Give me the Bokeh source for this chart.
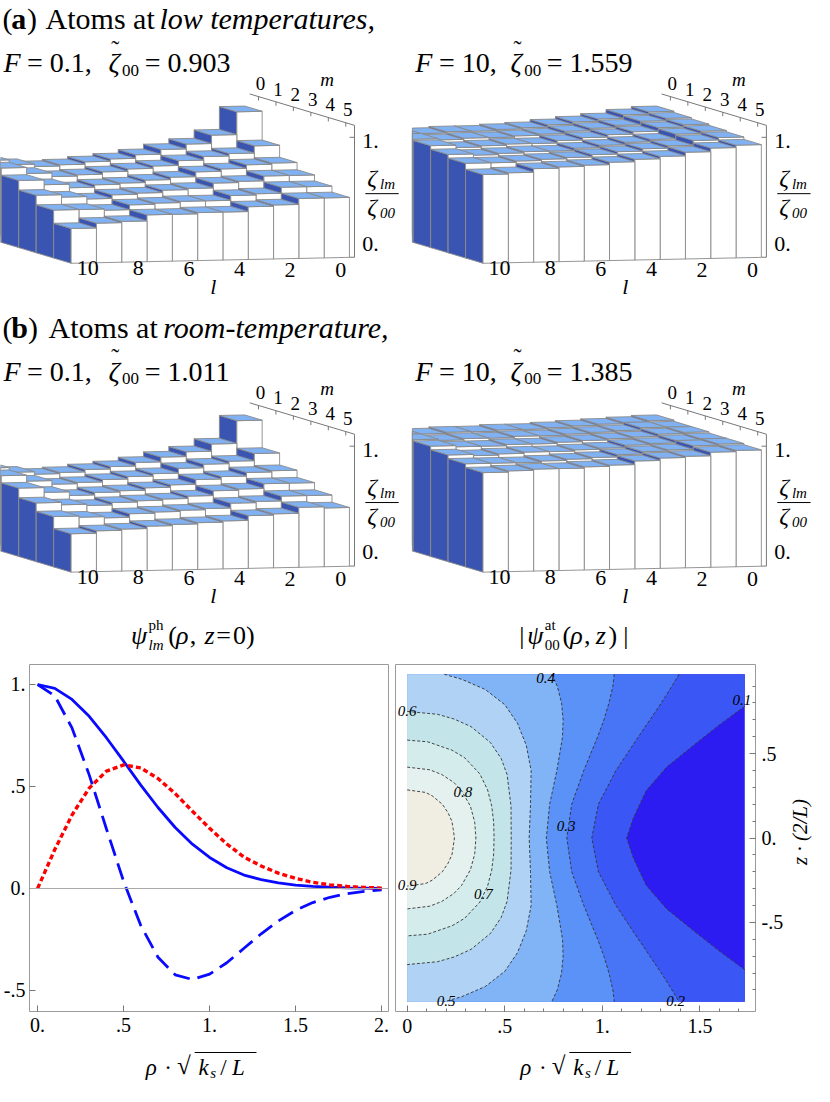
import math
from bokeh.plotting import figure
from bokeh.layouts import column, row
from bokeh.models import Range1d, FixedTicker, ColumnDataSource, Span
from bokeh.core.properties import value
from bokeh.embed import file_html
from bokeh.resources import INLINE

SERIF = "Liberation Serif"

# ---------------------------------------------------------------- data
l_values = [0, 1, 2, 3, 4, 5, 6, 7, 8, 9, 10]
m_values = [0, 1, 2, 3, 4, 5]
l_tick_values = [10, 8, 6, 4, 2, 0]

# zeta_lm / zeta_00, rows m = 0..5, columns l = 0..10
zeta_a_F01 = [
    [1.00, 0.81, 0.74, 0.70, 0.66, 0.63, 0.61, 0.59, 0.58, 0.60, 0.64],
    [0.76, 0.70, 0.68, 0.65, 0.61, 0.59, 0.57, 0.55, 0.54, 0.57, 0.62],
    [0.66, 0.65, 0.62, 0.60, 0.56, 0.54, 0.52, 0.51, 0.49, 0.52, 0.56],
    [0.60, 0.60, 0.56, 0.55, 0.51, 0.50, 0.48, 0.47, 0.44, 0.46, 0.48],
    [0.55, 0.55, 0.50, 0.49, 0.45, 0.45, 0.44, 0.43, 0.39, 0.40, 0.40],
    [0.50, 0.50, 0.45, 0.44, 0.40, 0.40, 0.39, 0.39, 0.34, 0.33, 0.29],
]
zeta_a_F10 = [
    [1.00, 0.98, 0.95, 0.93, 0.91, 0.89, 0.88, 0.87, 0.87, 0.86, 0.86],
    [0.99, 0.97, 0.94, 0.92, 0.90, 0.88, 0.87, 0.86, 0.86, 0.85, 0.86],
    [0.98, 0.96, 0.93, 0.91, 0.89, 0.87, 0.85, 0.85, 0.84, 0.83, 0.85],
    [0.97, 0.95, 0.91, 0.89, 0.87, 0.85, 0.83, 0.83, 0.82, 0.81, 0.82],
    [0.96, 0.94, 0.90, 0.88, 0.86, 0.84, 0.82, 0.81, 0.80, 0.79, 0.79],
    [0.94, 0.92, 0.89, 0.86, 0.84, 0.82, 0.80, 0.79, 0.78, 0.75, 0.74],
]
zeta_b_F01 = [
    [1.00, 0.81, 0.75, 0.71, 0.67, 0.64, 0.62, 0.60, 0.59, 0.61, 0.65],
    [0.77, 0.71, 0.69, 0.66, 0.62, 0.60, 0.58, 0.56, 0.55, 0.58, 0.63],
    [0.67, 0.66, 0.63, 0.61, 0.57, 0.55, 0.53, 0.52, 0.50, 0.53, 0.57],
    [0.61, 0.61, 0.57, 0.56, 0.52, 0.50, 0.49, 0.48, 0.46, 0.47, 0.49],
    [0.55, 0.55, 0.51, 0.50, 0.46, 0.45, 0.44, 0.43, 0.40, 0.41, 0.42],
    [0.49, 0.50, 0.45, 0.44, 0.40, 0.39, 0.38, 0.37, 0.35, 0.34, 0.32],
]
zeta_b_F10 = [
    [1.00, 0.99, 0.98, 0.97, 0.96, 0.95, 0.95, 0.94, 0.94, 0.93, 0.93],
    [0.99, 0.99, 0.97, 0.96, 0.95, 0.94, 0.94, 0.93, 0.93, 0.92, 0.93],
    [0.99, 0.98, 0.96, 0.95, 0.94, 0.93, 0.92, 0.92, 0.91, 0.91, 0.92],
    [0.98, 0.97, 0.95, 0.94, 0.92, 0.91, 0.90, 0.90, 0.89, 0.88, 0.89],
    [0.98, 0.97, 0.94, 0.93, 0.91, 0.89, 0.88, 0.87, 0.86, 0.86, 0.86],
    [0.97, 0.96, 0.93, 0.92, 0.90, 0.87, 0.86, 0.85, 0.85, 0.84, 0.83],
]

# photon mode profiles psi_lm(rho, z=0)
rho = [0.0, 0.1, 0.2, 0.3, 0.4, 0.5, 0.6, 0.7, 0.8, 0.9, 1.0,
       1.1, 1.2, 1.3, 1.4, 1.5, 1.6, 1.7, 1.8, 1.9, 2.0]
psi_solid = [1.0, 0.981, 0.927, 0.844, 0.739, 0.624, 0.507, 0.397, 0.299, 0.217, 0.152,
             0.102, 0.066, 0.043, 0.028, 0.017, 0.010, 0.006, 0.003, 0.002, 0.001]
psi_dashed = [1.0, 0.944, 0.787, 0.557, 0.293, 0.035, -0.182, -0.337, -0.423, -0.446, -0.420,
              -0.364, -0.293, -0.222, -0.159, -0.107, -0.069, -0.043, -0.025, -0.014, -0.007]
psi_dotted = [0.0, 0.191, 0.360, 0.492, 0.575, 0.606, 0.591, 0.539, 0.465, 0.379, 0.295,
              0.218, 0.154, 0.110, 0.075, 0.050, 0.030, 0.018, 0.010, 0.005, 0.002]
line_x_ticks = [0.0, 0.5, 1.0, 1.5, 2.0]
line_x_labels = ["0.", ".5", "1.", "1.5", "2."]
line_y_ticks = [-0.5, 0.0, 0.5, 1.0]
line_y_labels = ["-.5", "0.", ".5", "1."]

# atom wave function |psi_00(rho, z)|: contour lines (upper half, z >= 0, symmetric in z)
rho_max = 1.73
z_max = 0.97
contour_levels = [0.1, 0.2, 0.3, 0.4, 0.5, 0.6, 0.7, 0.8, 0.9]
c_rho = {
    0.1: [1.125, 1.16, 1.225, 1.33, 1.475, 1.60, 1.73],
    0.2: [0.946, 0.980, 1.070, 1.185, 1.244, 1.302, 1.357, 1.393],
    0.3: [0.818, 0.843, 0.905, 0.976, 1.008, 1.034, 1.054, 1.061],
    0.4: [0.713, 0.730, 0.767, 0.796, 0.799, 0.791, 0.769, 0.741],
    0.5: [0.625, 0.632, 0.635, 0.610, 0.565, 0.500, 0.400, 0.280, 0.190],
    0.6: [0.533, 0.532, 0.512, 0.482, 0.427, 0.327, 0.240, 0.155, 0.0],
    0.7: [0.445, 0.443, 0.433, 0.412, 0.372, 0.295, 0.230, 0.105, 0.0],
    0.8: [0.352, 0.346, 0.324, 0.278, 0.239, 0.177, 0.116, 0.0],
    0.9: [0.242, 0.236, 0.229, 0.209, 0.180, 0.128, 0.094, 0.0],
}
c_z = {
    0.1: [0.0, 0.12, 0.28, 0.42, 0.556, 0.67, 0.78],
    0.2: [0.0, 0.2, 0.4, 0.6, 0.7, 0.8, 0.9, 0.97],
    0.3: [0.0, 0.2, 0.4, 0.6, 0.7, 0.8, 0.9, 0.97],
    0.4: [0.0, 0.2, 0.4, 0.6, 0.7, 0.8, 0.9, 0.97],
    0.5: [0.0, 0.2, 0.4, 0.55, 0.68, 0.79, 0.88, 0.94, 0.97],
    0.6: [0.0, 0.19, 0.375, 0.47, 0.565, 0.66, 0.705, 0.733, 0.75],
    0.7: [0.0, 0.095, 0.19, 0.285, 0.38, 0.475, 0.52, 0.57, 0.58],
    0.8: [0.0, 0.094, 0.188, 0.282, 0.329, 0.376, 0.404, 0.42],
    0.9: [0.0, 0.05, 0.1, 0.15, 0.2, 0.25, 0.27, 0.285],
}
band_colors = ["#2c1cf2", "#3a56f5", "#4874f6", "#5b92f7", "#80b4f7",
               "#b0d3f5", "#c3e5e9", "#d4ecec", "#e5f1ee", "#f0eee2"]
contour_label_text = ["0.1", "0.2", "0.3", "0.4", "0.5", "0.6", "0.7", "0.8", "0.9"]
contour_label_rho = [1.715, 1.375, 0.815, 0.71, 0.20, 0.0, 0.39, 0.285, 0.0]
contour_label_z = [0.82, -0.965, 0.07, 0.95, -0.965, 0.755, -0.33, 0.27, -0.28]
cont_x_ticks = [0.0, 0.5, 1.0, 1.5]
cont_x_labels = ["0", ".5", "1.", "1.5"]
cont_y_ticks = [-0.5, 0.0, 0.5]
cont_y_labels = ["-.5", "0.", ".5"]

# ---------------------------------------------------------------- page geometry (reference px -> page px)
S = 814.0 / 830.0
TOP_REF, MID_REF = 668, 1070          # split lines in reference pixels
TOP_H = int(round(TOP_REF * S))
MID_H = int(round((MID_REF - TOP_REF) * S))
FOOT_H = int(round(1102 * S)) - TOP_H - MID_H
LP_W = int(round(400 * S))
CF_W = int(round(402 * S))
SIDE_W = 814 - LP_W - CF_W

# 3D bar projection
EU = (25.8, -0.55)     # screen step for one l cell
EV = (-17.8, -5.33)    # screen step for one m cell (towards the back)
HS = 122.3             # screen height of zeta_lm/zeta_00 = 1
TOP_C, FRONT_C, LEFT_C, EDGE_C = "#80b1f2", "#ffffff", "#3a54b2", "#8a8a8a"


def blank_fig(w, h, xr, yr):
    f = figure(width=w, height=h, x_range=xr, y_range=yr, output_backend="svg", toolbar_location=None,
               x_axis_location=None, y_axis_location=None, min_border=0)
    f.grid.visible = False
    f.outline_line_color = None
    return f


top = blank_fig(814, TOP_H, Range1d(0, 830), Range1d(TOP_REF, 0))


def put(fig, x, y, s, size=24, style="normal", align="left", baseline="middle", color="#000000", angle=0.0):
    fig.text(x=[x], y=[y], text=[s], text_font=value(SERIF), text_font_size=f"{size}px",
             text_font_style=style, text_align=align, text_baseline=baseline, text_color=color, angle=angle)


def proj(o, u, v, h):
    return (o[0] + EU[0] * u + EV[0] * v, o[1] + EU[1] * u + EV[1] * v - HS * h)


def clip_poly(pts, xmin):
    out = []
    n = len(pts)
    for i in range(n):
        cur, prev = pts[i], pts[i - 1]
        cin, pin = cur[0] >= xmin, prev[0] >= xmin
        if cin != pin:
            t = (xmin - prev[0]) / (cur[0] - prev[0])
            out.append((xmin, prev[1] + t * (cur[1] - prev[1])))
        if cin:
            out.append(cur)
    return out


def bar_panel(zeta, pdx, pdy):
    o = (72 + pdx, 268 + pdy)
    xs, ys, cols = [], [], []
    for mi, m in enumerate(m_values):          # back row first
        for l in l_values:                     # right to left
            h = zeta[mi][l]
            u0, u1 = 10 - l, 11 - l
            v0, v1 = 5 - m, 6 - m
            faces = [
                ([proj(o, u0, v0, 0), proj(o, u0, v1, 0), proj(o, u0, v1, h), proj(o, u0, v0, h)], LEFT_C),
                ([proj(o, u0, v0, 0), proj(o, u1, v0, 0), proj(o, u1, v0, h), proj(o, u0, v0, h)], FRONT_C),
                ([proj(o, u0, v0, h), proj(o, u1, v0, h), proj(o, u1, v1, h), proj(o, u0, v1, h)], TOP_C),
            ]
            for pts, c in faces:
                pts = clip_poly(pts, pdx)
                if len(pts) < 3:
                    continue
                xs.append([p[0] for p in pts])
                ys.append([p[1] for p in pts])
                cols.append(c)
    src = ColumnDataSource(dict(xs=xs, ys=ys, c=cols))
    top.patches("xs", "ys", source=src, fill_color="c", line_color=EDGE_C, line_width=0.9)

    # axes of the 3D box
    ax0 = proj(o, 11.2, 0, 0)
    ax1 = proj(o, 11.2, 0, 1.1)
    mb = proj(o, 11.2, 6, 1.1)
    top.segment(x0=[ax0[0], ax1[0]], y0=[ax0[1], ax1[1]], x1=[ax1[0], mb[0]], y1=[ax1[1], mb[1]],
                line_color="#777777", line_width=1)
    for hh in (0.0, 1.0):
        p = proj(o, 11.2, 0, hh)
        top.segment(x0=[p[0]], y0=[p[1]], x1=[p[0] - 5], y1=[p[1]], line_color="#777777", line_width=1)
    p1 = proj(o, 11.2, 0, 1.0)
    p0 = proj(o, 11.2, 0, 0.0)
    put(top, p1[0] + 8, p1[1] + 4, "1.", 22)
    put(top, p0[0] + 8, p0[1] - 14, "0.", 22)
    for m in m_values:
        p = proj(o, 11.2, 5.5 - m, 1.1)
        top.segment(x0=[p[0]], y0=[p[1]], x1=[p[0]], y1=[p[1] + 4], line_color="#777777", line_width=1)
        put(top, p[0] + 2, p[1] - 13, str(m), 19, align="center")
    pm = proj(o, 11.2, 1.8, 1.1)
    put(top, pm[0] + 4, pm[1] - 37, "m", 19, "italic", align="center")
    for l in l_tick_values:
        p = proj(o, 10.5 - l, 0, 0)
        put(top, p[0] + 4, p[1] + 5 + 0.8 * (10 - l), str(l), 22, align="center")
    put(top, 217 + pdx, 292 + pdy, "l", 22, "italic", align="center")
    # fraction zeta_lm / zeta_00
    put(top, 374 + pdx, 181 + pdy, "ζ", 24, "italic")
    put(top, 387 + pdx, 187 + pdy, "lm", 15, "italic")
    top.segment(x0=[372 + pdx], y0=[197 + pdy], x1=[406 + pdx], y1=[197 + pdy], line_color="#000000", line_width=1)
    put(top, 374 + pdx, 211 + pdy, "ζ", 24, "italic")
    put(top, 387 + pdx, 217 + pdy, "00", 15, "italic")


def f_line(pdx, pdy, f_txt, z_txt, zx, ex):
    y = 63 + pdy
    put(top, 3 + pdx, y, "F", 28, "italic")
    put(top, 27 + pdx, y, f_txt, 28)
    put(top, zx + pdx, y, "ζ", 28, "italic")
    put(top, zx + 3 + pdx, y - 14, "˜", 24)
    put(top, zx + 14 + pdx, y + 8, "00", 17)
    put(top, ex + pdx, y, z_txt, 28)


# headers
put(top, 2, 18, "(", 30)
put(top, 11, 18, "a", 30, "bold")
put(top, 27, 18, ")", 30)
put(top, 46, 18, "Atoms at", 30)
put(top, 162, 18, "low temperatures,", 30, "italic")
put(top, 2, 333, "(", 30)
put(top, 11, 333, "b", 30, "bold")
put(top, 28, 333, ")", 30)
put(top, 49, 333, "Atoms at", 30)
put(top, 166, 333, "room-temperature,", 30, "italic")

f_line(0, 0, "= 0.1,", "= 0.903", 110, 147)
f_line(420, 0, "= 10,", "= 1.559", 100, 137)
f_line(0, 315, "= 0.1,", "= 1.011", 110, 147)
f_line(420, 315, "= 10,", "= 1.385", 100, 137)

bar_panel(zeta_a_F01, 0, 0)
bar_panel(zeta_a_F10, 420, 0)
bar_panel(zeta_b_F01, 0, 315)
bar_panel(zeta_b_F10, 420, 315)

# titles of the lower plots
put(top, 133, 648, "ψ", 26, "italic")
put(top, 151, 637, "ph", 15)
put(top, 151, 657, "lm", 15, "italic")
put(top, 171, 648, "(", 26)
put(top, 179, 648, "ρ", 26, "italic")
put(top, 193, 648, ",", 26)
put(top, 208, 648, "z", 26, "italic")
put(top, 220, 648, "=", 26)
put(top, 237, 648, "0)", 26)

put(top, 529, 648, "|", 26)
put(top, 537, 648, "ψ", 26, "italic")
put(top, 555, 637, "at", 15)
put(top, 555, 657, "00", 15)
put(top, 573, 648, "(", 26)
put(top, 581, 648, "ρ", 26, "italic")
put(top, 595, 648, ",", 26)
put(top, 607, 648, "z", 26, "italic")
put(top, 620, 648, ")", 26)
put(top, 635, 648, "|", 26)


def style_axis(ax, labels_for, size=20):
    ax.axis_line_color = None
    ax.major_tick_in = 6
    ax.major_tick_out = 0
    ax.minor_tick_in = 3
    ax.minor_tick_out = 0
    ax.major_tick_line_color = "#777777"
    ax.minor_tick_line_color = "#777777"
    ax.major_label_text_font = SERIF
    ax.major_label_text_font_size = f"{size}px"
    ax.major_label_text_color = "#000000"
    ax.major_label_overrides = labels_for


# ---------------------------------------------------------------- line plot
lp = figure(width=LP_W, height=MID_H, x_range=Range1d(-0.047, 2.04), y_range=Range1d(-0.603, 1.098),
            output_backend="svg", toolbar_location=None,
            min_border_left=26, min_border_right=4, min_border_top=9, min_border_bottom=38)
lp.grid.visible = False
lp.outline_line_color = "#9a9a9a"
lp.xaxis.ticker = FixedTicker(ticks=line_x_ticks, minor_ticks=[])
lp.yaxis.ticker = FixedTicker(ticks=line_y_ticks, minor_ticks=[])
style_axis(lp.xaxis[0], {float(t): s for t, s in zip(line_x_ticks, line_x_labels)})
style_axis(lp.yaxis[0], {float(t): s for t, s in zip(line_y_ticks, line_y_labels)})
lp.xaxis.major_label_standoff = 6
lp.yaxis.major_label_standoff = 4
lp.add_layout(Span(location=0, dimension="width", line_color="#a8a8a8", line_width=1))
lp.line(rho, psi_solid, line_color="#0a0aff", line_width=2.8)
lp.line(rho, psi_dashed, line_color="#0a0aff", line_width=2.8, line_dash="17 8")
lp.line(rho, psi_dotted, line_color="#ff0000", line_width=3.4, line_dash="5 3")

# ---------------------------------------------------------------- contour plot
cf = figure(width=CF_W, height=MID_H, x_range=Range1d(-0.06, 1.785), y_range=Range1d(-1.028, 1.028),
            output_backend="svg", toolbar_location=None, y_axis_location="right",
            min_border_left=3, min_border_right=29, min_border_top=1, min_border_bottom=31)
cf.grid.visible = False
cf.outline_line_color = "#9a9a9a"
cf.xaxis.ticker = FixedTicker(ticks=cont_x_ticks, minor_ticks=[i / 10 for i in range(18)])
cf.yaxis.ticker = FixedTicker(ticks=cont_y_ticks, minor_ticks=[i / 10 for i in range(-9, 10)])
style_axis(cf.xaxis[0], {float(t): s for t, s in zip(cont_x_ticks, cont_x_labels)})
style_axis(cf.yaxis[0], {float(t): s for t, s in zip(cont_y_ticks, cont_y_labels)})
cf.xaxis.major_label_standoff = 7
cf.yaxis.major_label_standoff = 6

cf.patch([0, rho_max, rho_max, 0], [z_max, z_max, -z_max, -z_max], fill_color=band_colors[0], line_color=None)
full_lines = {}
for lev in contour_levels:
    r_up, z_up = c_rho[lev], c_z[lev]
    r_full = list(reversed(r_up)) + r_up[1:]
    z_full = list(reversed(z_up)) + [-z for z in z_up[1:]]
    full_lines[lev] = (r_full, z_full)
for i, lev in enumerate(contour_levels):
    r_full, z_full = full_lines[lev]
    if r_full[0] >= rho_max - 1e-9:          # line starts on the right edge
        px = [0, rho_max] + r_full + [rho_max, 0]
        py = [z_max, z_max] + z_full + [-z_max, -z_max]
    elif abs(z_full[0] - z_max) < 1e-9:      # line runs from top edge to bottom edge
        px = r_full + [0, 0]
        py = z_full + [-z_max, z_max]
    else:                                    # closed against the left edge
        px, py = r_full, z_full
    cf.patch(px, py, fill_color=band_colors[i + 1], line_color=None)
for lev in contour_levels:
    r_full, z_full = full_lines[lev]
    cf.line(r_full, z_full, line_color="#333333", line_width=0.9, line_dash="3 2")
cf.text(x=contour_label_rho, y=contour_label_z, text=contour_label_text, text_font=value(SERIF),
        text_font_size="15px", text_font_style="italic", text_align="center", text_baseline="middle",
        text_color="#000000")

# ---------------------------------------------------------------- side strip (vertical axis title)
side = blank_fig(SIDE_W, MID_H, Range1d(802, 830), Range1d(0, MID_REF - TOP_REF))
put(side, 815, MID_REF - 862, "z · (2/L)", 21, "italic", align="center", angle=math.pi / 2)

# ---------------------------------------------------------------- footer (horizontal axis titles)
foot = blank_fig(814, FOOT_H, Range1d(0, 830), Range1d(1102, MID_REF))
for dx in (0, 382):
    put(foot, 148 + dx, 1088, "ρ", 23, "italic")
    put(foot, 167 + dx, 1088, "·", 23)
    put(foot, 180 + dx, 1086, "√", 25)
    foot.segment(x0=[198 + dx], y0=[1073], x1=[261 + dx], y1=[1073], line_color="#000000", line_width=1.2)
    put(foot, 202 + dx, 1088, "k", 23, "italic")
    put(foot, 214 + dx, 1093, "s", 15, "italic")
    put(foot, 224 + dx, 1088, "/", 23)
    put(foot, 236 + dx, 1088, "L", 23, "italic")

layout = column(top, row(lp, cf, side, spacing=0), foot, spacing=0)
open("out.html", "w").write(file_html(layout, INLINE))
